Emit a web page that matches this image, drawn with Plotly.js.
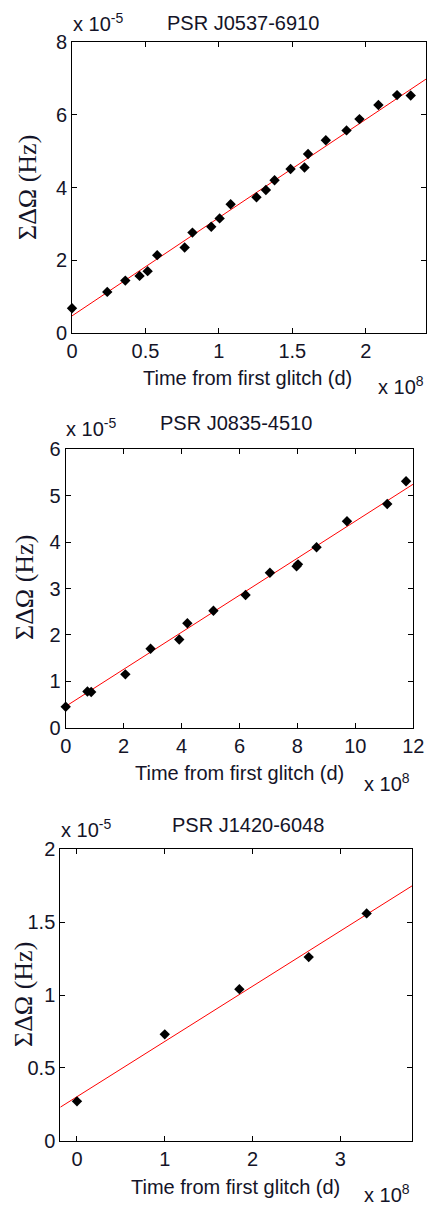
<!DOCTYPE html>
<html>
<head>
<meta charset="utf-8">
<script src="https://cdn.plot.ly/plotly-3.0.1.min.js"></script>
<style>
html,body{margin:0;padding:0;background:#fff;}
#chart{width:428px;height:1210px;}
</style>
</head>
<body>
<div id="chart"></div>
<script>
// ---- Data (x in units of 1e8 d, y in units of 1e-5 Hz) ----
const titles = ["PSR J0537-6910", "PSR J0835-4510", "PSR J1420-6048"];
const xLabel = "Time from first glitch (d)";
const yLabel = "ΣΔΩ (Hz)";

const p1X = [0, 0.24, 0.363, 0.46, 0.515, 0.58, 0.767, 0.82, 0.948, 1.005, 1.08, 1.256, 1.32, 1.379, 1.488, 1.583, 1.607, 1.728, 1.869, 1.957, 2.086, 2.213, 2.306];
const p1Y = [0.68, 1.13, 1.44, 1.57, 1.70, 2.14, 2.35, 2.76, 2.92, 3.15, 3.54, 3.73, 3.93, 4.20, 4.51, 4.55, 4.92, 5.30, 5.57, 5.88, 6.27, 6.54, 6.53];
const fit1X = [0, 2.41];
const fit1Y = [0.47, 6.98];

const p2X = [0, 0.75, 0.88, 2.06, 2.93, 3.92, 4.20, 5.10, 6.21, 7.05, 7.97, 8.02, 8.66, 9.71, 11.10, 11.75];
const p2Y = [0.45, 0.78, 0.77, 1.15, 1.70, 1.90, 2.25, 2.52, 2.86, 3.34, 3.48, 3.52, 3.89, 4.45, 4.82, 5.31];
const fit2X = [0, 12];
const fit2Y = [0.46, 5.25];

const p3X = [0, 1.0, 1.85, 2.64, 3.30];
const p3Y = [0.27, 0.73, 1.04, 1.26, 1.56];
const fit3X = [-0.19, 3.82];
const fit3Y = [0.23, 1.75];

const x1Ticks = [0, 0.5, 1, 1.5, 2];
const x1TickText = ["0", "0.5", "1", "1.5", "2"];
const y1Ticks = [0, 2, 4, 6, 8];
const y1TickText = ["0", "2", "4", "6", "8"];
const x2Ticks = [0, 2, 4, 6, 8, 10, 12];
const x2TickText = ["0", "2", "4", "6", "8", "10", "12"];
const y2Ticks = [0, 1, 2, 3, 4, 5, 6];
const y2TickText = ["0", "1", "2", "3", "4", "5", "6"];
const x3Ticks = [0, 1, 2, 3];
const x3TickText = ["0", "1", "2", "3"];
const y3Ticks = [0, 0.5, 1, 1.5, 2];
const y3TickText = ["0", "0.5", "1", "1.5", "2"];

const yExpText = "x 10<sup>-5</sup>";
const xExpText = "x 10<sup>8</sup>";

// ---- Layout helpers ----
const W = 428, H = 1210;
const px = v => v / W;
const py = v => 1 - v / H;
const SANS = "Liberation Sans, Arial, sans-serif";
const SERIF = "Liberation Serif, Times New Roman, serif";
const TXT = "#141428";
const FS = 20;

function pts(x, y, xa, ya) {
  return {x: x, y: y, xaxis: xa, yaxis: ya, type: "scatter", mode: "markers",
    marker: {symbol: "diamond", size: 8, color: "#000"}, hoverinfo: "skip", cliponaxis: false};
}
function fit(x, y, xa, ya) {
  return {x: x, y: y, xaxis: xa, yaxis: ya, type: "scatter", mode: "lines",
    line: {color: "#ff0000", width: 1}, hoverinfo: "skip"};
}
function axis(dom, range, tv, tt, anchor) {
  return {domain: dom, range: range, tickvals: tv, ticktext: tt, ticks: "inside", ticklen: 5,
    tickcolor: "#000", tickwidth: 1, mirror: "allticks", showline: true, linecolor: "#000",
    linewidth: 1, showgrid: false, zeroline: false, anchor: anchor,
    tickfont: {family: SANS, size: FS, color: TXT}, fixedrange: true};
}

const data = [
  fit(fit1X, fit1Y, "x", "y"), pts(p1X, p1Y, "x", "y"),
  fit(fit2X, fit2Y, "x2", "y2"), pts(p2X, p2Y, "x2", "y2"),
  fit(fit3X, fit3Y, "x3", "y3"), pts(p3X, p3Y, "x3", "y3")
];

function ann(text, x, y, opts) {
  return Object.assign({text: text, x: px(x), y: py(y), xref: "paper", yref: "paper",
    xanchor: "center", yanchor: "middle",
    showarrow: false, font: {family: SANS, size: FS, color: TXT}}, opts || {});
}
const yFont = {family: SERIF, size: 26, color: TXT};

const annotations = [
  // titles
  ann(titles[0], 243, 23),
  ann(titles[1], 236, 423),
  ann(titles[2], 248, 825),
  // x labels
  ann(xLabel, 247, 378),
  ann(xLabel, 240, 773),
  ann(xLabel, 235, 1187),
  // y labels
  ann(yLabel, 27, 187, {textangle: -90, font: yFont}),
  ann(yLabel, 24, 588, {textangle: -90, font: yFont}),
  ann(yLabel, 23, 995, {textangle: -90, font: yFont}),
  // exponent labels
  ann(yExpText, 71, 37, {xanchor: "left", yanchor: "bottom"}),
  ann(yExpText, 64, 442, {xanchor: "left", yanchor: "bottom"}),
  ann(yExpText, 59, 843, {xanchor: "left", yanchor: "bottom"}),
  ann(xExpText, 376, 400, {xanchor: "left", yanchor: "bottom"}),
  ann(xExpText, 362, 797, {xanchor: "left", yanchor: "bottom"}),
  ann(xExpText, 362, 1208, {xanchor: "left", yanchor: "bottom"})
];

const layout = {
  width: W, height: H, margin: {l: 0, r: 0, t: 0, b: 0},
  paper_bgcolor: "#fff", plot_bgcolor: "#fff", showlegend: false,
  xaxis: axis([px(72), px(426)], [0, 2.41], x1Ticks, x1TickText, "y"),
  yaxis: axis([py(333), py(42)], [0, 8], y1Ticks, y1TickText, "x"),
  xaxis2: axis([px(65.7), px(413.3)], [0, 12], x2Ticks, x2TickText, "y2"),
  yaxis2: axis([py(727.7), py(449.3)], [0, 6], y2Ticks, y2TickText, "x2"),
  xaxis3: axis([px(60.3), px(412.3)], [-0.19, 3.82], x3Ticks, x3TickText, "y3"),
  yaxis3: axis([py(1140.7), py(849.3)], [0, 2], y3Ticks, y3TickText, "x3"),
  annotations: annotations
};

Plotly.newPlot("chart", data, layout, {displayModeBar: false, staticPlot: true});
</script>
</body>
</html>
